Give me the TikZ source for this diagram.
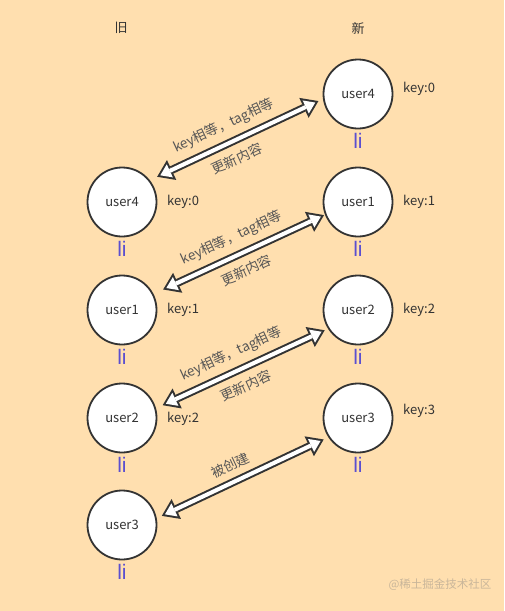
\documentclass[tikz,border=0pt]{standalone}
\usepackage{fontspec}
\setmainfont{Noto Sans CJK SC}
\newfontfamily\lifont{Liberation Sans}
\usetikzlibrary{arrows.meta}
\definecolor{bg}{HTML}{FFDFAF}
\definecolor{ink}{HTML}{333333}
\definecolor{lbl}{HTML}{555555}
\definecolor{liblue}{HTML}{5B4FD0}
\definecolor{wm}{HTML}{C9B69A}
\tikzset{
  usr/.style={circle, draw=ink, line width=1.8pt, fill=white, minimum size=69pt, inner sep=0pt,
    font=\fontsize{13}{15}\selectfont, text=ink},
  keytxt/.style={anchor=west, inner sep=0pt, font=\fontsize{13}{15}\selectfont, text=ink},
  litxt/.style={anchor=base, inner sep=0pt, font=\lifont\fontsize{21}{24}\selectfont, text=liblue},
  head/.style={inner sep=0pt, font=\fontsize{13}{15}\selectfont, text=ink},
  arrlbl/.style={inner sep=0pt, font=\fontsize{13.5}{15}\selectfont, text=lbl, sloped},
  darkarrow/.style={draw=ink, line width=8pt,
    {Triangle[length=16pt,width=22pt,line width=0pt]}-{Triangle[length=16pt,width=22pt,line width=0pt]}},
  whitearrow/.style={draw=white, line width=4pt,
    {Triangle[length=10.5pt,width=14.4pt,line width=0pt]}-{Triangle[length=10.5pt,width=14.4pt,line width=0pt]}},
}
\begin{document}
\begin{tikzpicture}[x=1pt,y=-1pt]
\fill[bg] (0,0) rectangle (504,611);
\useasboundingbox (0,0) rectangle (504,611);

\node[head] (hold) at (121,28) {旧};
\node[head] (hnew) at (358,28) {新};

% old column
\node[usr] (old4) at (122,202) {user4};
\node[usr] (old1) at (122,310) {user1};
\node[usr] (old2) at (122,418) {user2};
\node[usr] (old3) at (122,525) {user3};
% new column
\node[usr] (new4) at (358,94) {user4};
\node[usr] (new1) at (358,202) {user1};
\node[usr] (new2) at (358,310) {user2};
\node[usr] (new3) at (358,418) {user3};

% li labels
\foreach \n/\x/\y in {lo4/122/202, lo1/122/310, lo2/122/418, lo3/122/525,
                      ln4/358/94, ln1/358/202, ln2/358/310, ln3/358/418}{
  \node[litxt] (\n) at (\x,\y+54) {li};
}

% keys
\node[keytxt] (ko4) at (167,202) {key:0};
\node[keytxt] (ko1) at (167,310) {key:1};
\node[keytxt] (ko2) at (167,419) {key:2};
\node[keytxt] (kn4) at (403,89) {key:0};
\node[keytxt] (kn1) at (403,202) {key:1};
\node[keytxt] (kn2) at (403,310) {key:2};
\node[keytxt] (kn3) at (403,411) {key:3};

% arrow 1
\draw[darkarrow, shorten <=8pt, shorten >=5pt] (old4.38.5) -- (new4.188.5);
\draw[whitearrow, shorten <=11.5pt, shorten >=8.5pt] (old4.38.5) -- (new4.188.5);
\path (old4.38.5) -- (new4.188.5)
  node[arrlbl, pos=.47, above=10pt] {key相等，tag相等}
  node[arrlbl, pos=.46, below=11pt] {更新内容};

% arrow 2
\draw[darkarrow, shorten <=10.6pt, shorten >=1pt] (old1.27) -- (new1.201);
\draw[whitearrow, shorten <=14.1pt, shorten >=4.5pt] (old1.27) -- (new1.201);
\path (old1.27) -- (new1.201)
  node[arrlbl, pos=.5, above=10pt] {key相等，tag相等}
  node[arrlbl, pos=.5, below=11pt] {更新内容};

% arrow 3
\draw[darkarrow, shorten <=7.3pt, shorten >=3.6pt] (old2.16) -- (new2.212.5);
\draw[whitearrow, shorten <=10.8pt, shorten >=7.1pt] (old2.16) -- (new2.212.5);
\path (old2.16) -- (new2.212.5)
  node[arrlbl, pos=.48, above=10pt] {key相等，tag相等}
  node[arrlbl, pos=.48, below=11pt] {更新内容};

% arrow 4
\draw[darkarrow, shorten <=5.6pt, shorten >=5.1pt] (old3.11) -- (new3.213);
\draw[whitearrow, shorten <=9.1pt, shorten >=8.6pt] (old3.11) -- (new3.213);
\path (old3.11) -- (new3.213)
  node[arrlbl, pos=.47, above=10pt] {被创建};

% watermark
\node[inner sep=0pt, font=\fontsize{11.5}{13}\selectfont, text=wm] (wmark) at (440,585) {@稀土掘金技术社区};
\end{tikzpicture}
\end{document}
